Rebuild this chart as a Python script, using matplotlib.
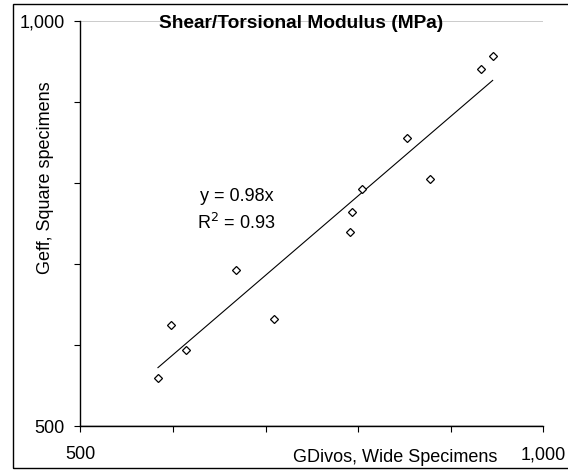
import numpy as np
import matplotlib
matplotlib.use("Agg")
import matplotlib.pyplot as plt
from matplotlib.patches import Rectangle
from matplotlib.ticker import MultipleLocator, StrMethodFormatter

plt.rcParams['font.family'] = ['Liberation Sans', 'DejaVu Sans']

# values (MPa)
g_divos = np.array([583.7, 597.8, 613.7, 668, 709, 790.8, 793.3, 803.8,
                    852.7, 877.6, 932.4, 945.3])
g_eff = np.array([559.2, 624.6, 593.8, 692.5, 632, 739.7, 763.6, 792,
                  855.7, 805.1, 940.4, 956.8])
slope = 0.98
r2 = 0.93

fig = plt.figure(figsize=(5.68, 4.70), dpi=100)
ax = fig.add_axes([0.1417, 0.0936, 0.8148, 0.8623])

# trendline through origin, spanning the data
xt = np.array([g_divos.min(), g_divos.max()])
ax.plot(xt, slope * xt, color='black', lw=0.8, zorder=3)
ax.plot(g_divos, g_eff, linestyle='none', marker='D', ms=4.3,
        mfc='white', mec='black', mew=0.9, zorder=4)

ax.set_xlim(500, 1000)
ax.set_ylim(500, 1000)
for axis in (ax.xaxis, ax.yaxis):
    axis.set_major_locator(MultipleLocator(500))
    axis.set_minor_locator(MultipleLocator(100))
    axis.set_major_formatter(StrMethodFormatter('{x:,.0f}'))

ax.tick_params(which='both', direction='out', length=4.5, width=0.8,
               color='black')
ax.tick_params(axis='x', which='major', labelsize=13, pad=10)
ax.tick_params(axis='y', which='major', labelsize=13, pad=7)
ax.yaxis.grid(True, which='major', color='#bdbdbd', lw=1.1)

for s in ('top', 'right'):
    ax.spines[s].set_visible(False)
for s in ('left', 'bottom'):
    ax.spines[s].set_linewidth(1.0)

ax.text(0.4775, 0.993, 'Shear/Torsional Modulus (MPa)', transform=ax.transAxes,
        ha='center', va='center', fontsize=13.8, fontweight='bold', zorder=5)

ax.text(0.3375, 0.566, 'y = %.2fx' % slope, transform=ax.transAxes,
        ha='center', va='center', fontsize=13)
ax.text(0.3375, 0.502, 'R$^2$ = %.2f' % r2, transform=ax.transAxes,
        ha='center', va='center', fontsize=13)

fig.text(0.875, 0.0177, 'GDivos, Wide Specimens', ha='right', va='baseline',
         fontsize=13)
fig.text(0.0805, 0.623, 'Geff, Square specimens', rotation=90,
         ha='center', va='center', fontsize=13)

# chart frame
fig.patches.append(Rectangle((0.0224, 0.0043), 1.0, 0.9872, transform=fig.transFigure,
                             fill=False, edgecolor='black', lw=1.0))

fig.savefig('out.png', dpi=100)
